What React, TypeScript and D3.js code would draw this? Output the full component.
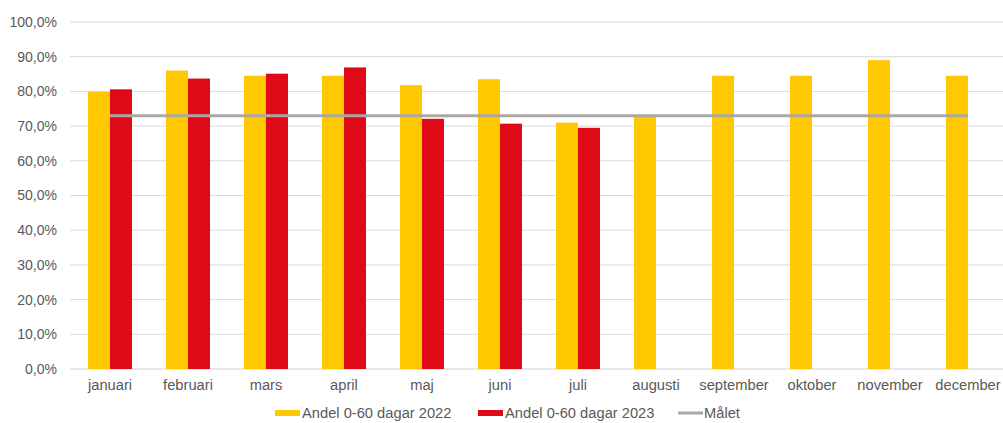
import React from "react";
import * as d3 from "d3";

const months = ["januari","februari","mars","april","maj","juni","juli","augusti","september","oktober","november","december"];
const values2022 = [79.9, 86.0, 84.5, 84.5, 81.8, 83.5, 71.0, 72.9, 84.5, 84.5, 89.0, 84.5];
const values2023: (number | null)[] = [80.6, 83.7, 85.1, 86.9, 72.1, 70.7, 69.5, null, null, null, null, null];
const target = 73.0;
const yTicks = [0, 10, 20, 30, 40, 50, 60, 70, 80, 90, 100];
const seriesNames = ["Andel 0-60 dagar 2022", "Andel 0-60 dagar 2023", "Målet"];

const W = 1003, H = 423;
const YELLOW = "#FFC800";
const RED = "#DE0A17";
const GRAY = "#ABA7A3";
const TEXT = "#595959";
const FONT = "'Liberation Sans', Arial, sans-serif";

export default function App() {
  const x = d3.scaleBand<string>().domain(months).range([71, 1007]).paddingInner(34 / 78).paddingOuter(17 / 78);
  const xc = d3.scaleBand<string>().domain(months).range([71, 1007]);
  const sub = d3.scaleBand<string>().domain(["2022", "2023"]).range([0, x.bandwidth()]);
  const y = d3.scaleLinear().domain([0, 100]).range([369, 22]);
  const fmt = (v: number) => v.toFixed(1).replace(".", ",") + "%";

  const line = d3.line<number>()
    .x((_, i) => (xc(months[i]) as number) + xc.bandwidth() / 2)
    .y((d) => y(d));

  return (
    <svg width={W} height={H} style={{ position: "absolute", left: 0, top: 0, background: "#fff" }} fontFamily={FONT}>
      {yTicks.map((t) => (
        <g key={t}>
          <line x1={70} x2={1003} y1={y(t)} y2={y(t)} stroke={t === 0 ? "#D0D0D0" : "#D9D9D9"} strokeWidth={1} />
          <text x={57} y={y(t)} dy="0.35em" textAnchor="end" fontSize={14} fill={TEXT}>{fmt(t)}</text>
        </g>
      ))}
      {months.map((m, i) => (
        <g key={m}>
          <rect x={(x(m) as number) + (sub("2022") as number)} y={y(values2022[i])} width={sub.bandwidth()} height={y(0) - y(values2022[i])} fill={YELLOW} />
          {values2023[i] != null && (
            <rect x={(x(m) as number) + (sub("2023") as number)} y={y(values2023[i] as number)} width={sub.bandwidth()} height={y(0) - y(values2023[i] as number)} fill={RED} />
          )}
          <text x={(xc(m) as number) + xc.bandwidth() / 2} y={390} textAnchor="middle" fontSize={14.7} fill={TEXT}>{m}</text>
        </g>
      ))}
      <path d={line(months.map(() => target)) as string} fill="none" stroke={GRAY} strokeWidth={3} />
      <g fontSize={14.7} fill={TEXT}>
        <rect x={275} y={410} width={25} height={6} fill={YELLOW} />
        <text x={302} y={413} dy="0.35em" fill={TEXT}>{seriesNames[0]}</text>
        <rect x={478} y={410} width={25} height={6} fill={RED} />
        <text x={505} y={413} dy="0.35em" fill={TEXT}>{seriesNames[1]}</text>
        <line x1={678} x2={703} y1={413} y2={413} stroke={GRAY} strokeWidth={3} />
        <text x={704} y={413} dy="0.35em" fill={TEXT}>{seriesNames[2]}</text>
      </g>
    </svg>
  );
}
